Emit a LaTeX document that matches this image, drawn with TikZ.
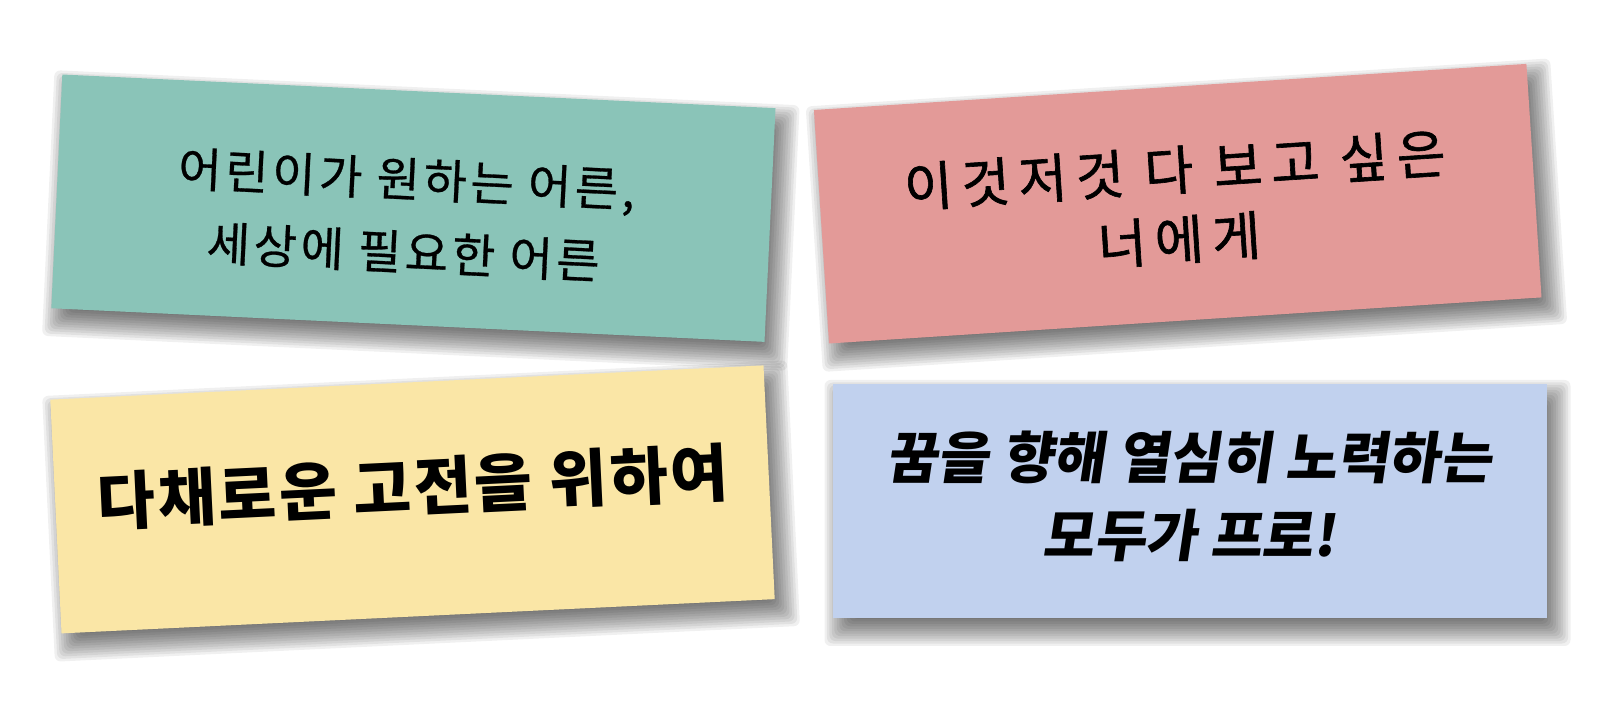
\documentclass[tikz,border=0pt]{standalone}
\usepackage{fontspec}
\newfontfamily\krfont{Noto Sans CJK KR}
\definecolor{cardteal}{RGB}{138,196,184}
\definecolor{cardpink}{RGB}{227,154,152}
\definecolor{cardyellow}{RGB}{250,230,166}
\definecolor{cardblue}{RGB}{193,209,238}
\tikzset{
  card/.style={rectangle, draw=none, inner sep=0pt, minimum width=714pt, minimum height=234pt},
  cardtext/.style={inner sep=0pt, align=center, text=black},
  shadowlayer/.style={fill=black, fill opacity=0.06, rounded corners=6pt},
}
\newcommand\cardshadow[3]{%
  \begin{scope}[shift={(#1,#2)}, rotate=#3]
    \foreach \k in {0,...,13}{%
      \pgfmathsetmacro\ee{16-32*\k/13}%
      \fill[shadowlayer] (-357-\ee+8,-117-\ee-12) rectangle (357+\ee+8,117+\ee-12);
    }
  \end{scope}}
\begin{document}
\begin{tikzpicture}[x=1pt,y=1pt]
\fill[white] (0,0) rectangle (1614,722);
\useasboundingbox (0,0) rectangle (1614,722);
% shadows
\cardshadow{413.4}{513.8}{-2.7}
\cardshadow{1177.7}{518.3}{3.7}
\cardshadow{412.5}{222.6}{2.75}
\cardshadow{1189.5}{221}{0}
% cards
\node[card, fill=cardteal, rotate=-2.7] (teal) at (413.4,513.8) {};
\node[card, fill=cardpink, rotate=3.7] (pink) at (1177.7,518.3) {};
\node[card, fill=cardyellow, rotate=2.75] (yellow) at (412.5,222.6) {};
\node[card, fill=cardblue] (blue) at (1189.5,221) {};
% texts
\node[cardtext, rotate=-2.7, font=\krfont\addfontfeature{LetterSpace=8,FakeBold=0.6}\fontsize{47}{73}\selectfont] (tealtxt) at (405,506.5)
  {어린이가 원하는 어른,\\세상에 필요한 어른};
\node[cardtext, rotate=3.7, font=\krfont\addfontfeature{LetterSpace=16,FakeBold=1.2}\fontsize{53}{70}\selectfont] (pinktxt) at (1177,517)
  {이것저것 다 보고 싶은\\너에게};
\node[cardtext, rotate=2.75, font=\krfont\bfseries\addfontfeature{LetterSpace=4}\fontsize{63}{72}\selectfont] (yellowtxt) at (413,235)
  {다채로운 고전을 위하여};
\node[cardtext, font=\krfont\bfseries\addfontfeature{FakeSlant=0.15}\fontsize{56}{78}\selectfont] (bluetxt) at (1189,226)
  {꿈을 향해 열심히 노력하는\\모두가 프로!};
\end{tikzpicture}
\end{document}
